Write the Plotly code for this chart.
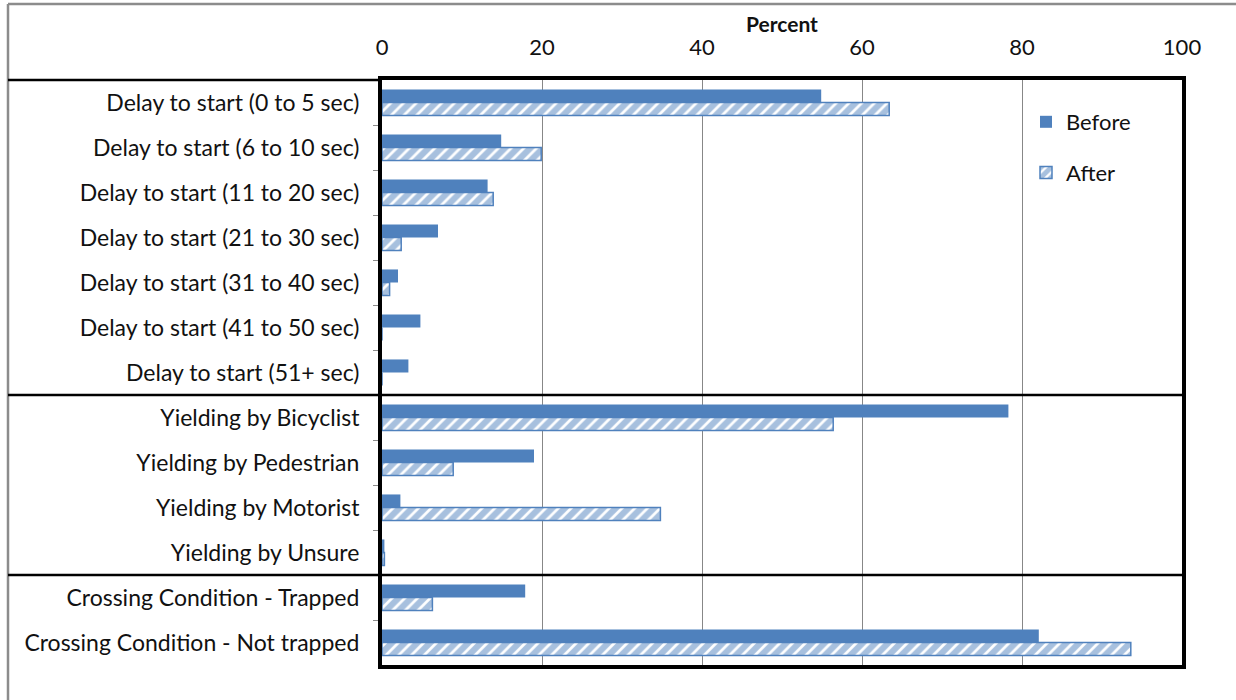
import plotly.graph_objects as go

categories = [
    "Delay to start (0 to 5 sec)",
    "Delay to start (6 to 10 sec)",
    "Delay to start (11 to 20 sec)",
    "Delay to start (21 to 30 sec)",
    "Delay to start (31 to 40 sec)",
    "Delay to start (41 to 50 sec)",
    "Delay to start (51+ sec)",
    "Yielding by Bicyclist",
    "Yielding by Pedestrian",
    "Yielding by Motorist",
    "Yielding by Unsure",
    "Crossing Condition - Trapped",
    "Crossing Condition - Not trapped",
]
before = [54.9, 14.9, 13.2, 7.0, 2.0, 4.8, 3.3, 78.3, 19.0, 2.3, 0.3, 17.9, 82.1]
after = [63.4, 19.9, 13.9, 2.4, 0.95, 0, 0, 56.4, 8.9, 34.8, 0.3, 6.3, 93.6]
x_ticks = [0, 20, 40, 60, 80, 100]

BLUE = "#4F81BD"
FONT = "Lato"
FS = 23

fig = go.Figure()
fig.add_trace(go.Bar(
    y=categories, x=before, orientation="h", name="Before",
    marker=dict(color=BLUE, line=dict(color=BLUE, width=0)),
    legendgroup="b",
))
fig.add_trace(go.Bar(
    y=categories, x=after, orientation="h", name="After",
    marker=dict(color="white", line=dict(color=BLUE, width=1.5),
                pattern=dict(shape="/", fgcolor=BLUE, bgcolor="white",
                             size=9, solidity=0.7, fillmode="overlay")),
    legendgroup="a",
))

PL, PR, PT, PB = 382, 1182, 80, 665
FW, FH = 1236, 700
W = PR - PL
H = PB - PT

def px_to_paper_x(px):
    return (px - PL) / W

def px_to_paper_y(py):
    return 1 - (py - PT) / H

shapes = [
    # outer gray chart border (top and left edges visible)
    dict(type="line", xref="paper", yref="paper",
         x0=px_to_paper_x(8), x1=px_to_paper_x(1240),
         y0=px_to_paper_y(4), y1=px_to_paper_y(4),
         line=dict(color="#8c8c8c", width=2.5), layer="below"),
    dict(type="line", xref="paper", yref="paper",
         x0=px_to_paper_x(8), x1=px_to_paper_x(8),
         y0=px_to_paper_y(4), y1=px_to_paper_y(704),
         line=dict(color="#8c8c8c", width=2.5), layer="below"),
    dict(type="line", xref="paper", yref="paper",
         x0=px_to_paper_x(8), x1=0, y0=1, y1=1,
         line=dict(color="black", width=2.5)),
]
for b in [6.5, 10.5]:
    shapes.append(dict(type="line", xref="paper", yref="y",
                       x0=px_to_paper_x(8), x1=1, y0=b, y1=b,
                       line=dict(color="black", width=2.5)))

fig.update_layout(
    width=FW, height=FH,
    margin=dict(l=PL, r=FW - PR, t=PT, b=FH - PB, autoexpand=False),
    paper_bgcolor="white", plot_bgcolor="white",
    barmode="group", bargap=0.42, bargroupgap=0.0,
    font=dict(family=FONT, size=FS, color="#111111"),
    showlegend=True,
    legend=dict(x=px_to_paper_x(1026), y=px_to_paper_y(101), xanchor="left", yanchor="top",
                bgcolor="rgba(0,0,0,0)", font=dict(size=22, family=FONT),
                tracegroupgap=19, traceorder="grouped", itemwidth=30),
    shapes=shapes,
    annotations=[dict(text="<b>Percent</b>", xref="paper", yref="paper",
                      x=0.5, y=px_to_paper_y(24), xanchor="center", yanchor="middle",
                      showarrow=False, font=dict(size=21, family=FONT))],
    xaxis=dict(
        side="top", range=[0, 100], tickvals=x_ticks, ticktext=[str(v) for v in x_ticks],
        showgrid=True, gridcolor="#878787", gridwidth=1,
        showline=True, linecolor="black", linewidth=4, mirror=True,
        ticks="", ticklabelstandoff=12, zeroline=False, automargin=False,
        tickfont=dict(size=22, family=FONT),
    ),
    yaxis=dict(
        categoryorder="array", categoryarray=categories, autorange="reversed",
        showline=True, linecolor="black", linewidth=4, mirror=True,
        ticks="outside", tickson="boundaries", ticklen=5, tickcolor="#8c8c8c",
        ticklabelstandoff=14, showgrid=False, automargin=False,
        tickfont=dict(size=FS, family=FONT),
    ),
)

fig.write_html("out.html", config={"displayModeBar": False},
               post_script="document.body.style.margin='0';")
